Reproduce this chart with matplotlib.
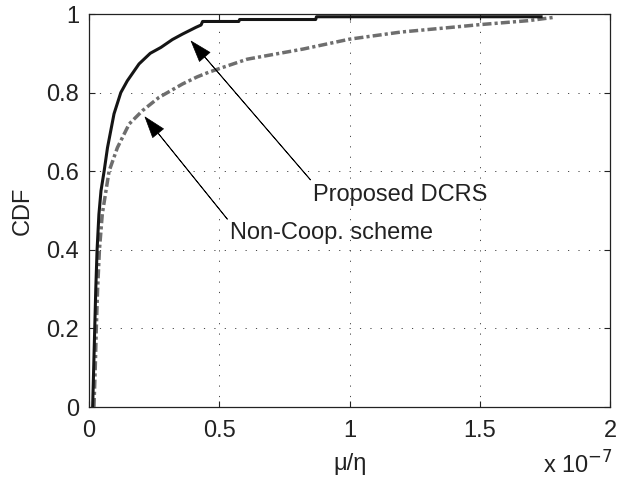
import matplotlib
matplotlib.use("Agg")
import matplotlib.pyplot as plt
from matplotlib.ticker import FixedLocator, FuncFormatter

plt.rcParams['font.family'] = ['Liberation Sans', 'DejaVu Sans']

# values, x in units of 1e-7
dcrs_x = [0.014, 0.018, 0.022, 0.026, 0.031, 0.038, 0.046, 0.058, 0.071, 0.096,
          0.122, 0.147, 0.192, 0.235, 0.276, 0.32, 0.359, 0.41, 0.43, 0.436,
          0.575, 0.578, 0.87, 0.873, 1.735]
dcrs_y = [0.0, 0.1, 0.2, 0.3, 0.4, 0.49, 0.55, 0.6, 0.66, 0.746,
          0.8, 0.83, 0.873, 0.9, 0.915, 0.935, 0.949, 0.966, 0.972, 0.981,
          0.981, 0.986, 0.986, 0.993, 0.993]

noncoop_x = [0.019, 0.024, 0.028, 0.033, 0.04, 0.051, 0.077, 0.109, 0.154, 0.205,
             0.269, 0.301, 0.359, 0.415, 0.46, 0.504, 0.607, 0.823, 1.0, 1.196,
             1.39, 1.5, 1.685, 1.79]
noncoop_y = [0.0, 0.1, 0.2, 0.3, 0.4, 0.491, 0.6, 0.66, 0.72, 0.754,
             0.788, 0.8, 0.822, 0.84, 0.852, 0.862, 0.885, 0.911, 0.936, 0.954,
             0.966, 0.973, 0.983, 0.992]

x_ticks = [0, 0.5, 1, 1.5, 2]
y_ticks = [0, 0.2, 0.4, 0.6, 0.8, 1]

fs = 17
txt = '#222222'

fig = plt.figure(figsize=(6.29, 4.83), dpi=100)
ax = fig.add_axes([0.1415, 0.1573, 0.8285, 0.8137])

ax.plot(noncoop_x, noncoop_y, color='#6e6e6e', lw=2.5,
        dashes=(2.6, 0.9, 0.9, 0.9), zorder=3)
ax.plot(dcrs_x, dcrs_y, color='#151515', lw=2.2, zorder=4)

ax.set_xlim(0, 2)
ax.set_ylim(0, 1)
ax.xaxis.set_major_locator(FixedLocator(x_ticks))
ax.yaxis.set_major_locator(FixedLocator(y_ticks))
fmt = FuncFormatter(lambda v, p: '%g' % v)
ax.xaxis.set_major_formatter(fmt)
ax.yaxis.set_major_formatter(fmt)

ax.grid(True, color='#444444', lw=0.7, dashes=(1.2, 9.5))
ax.tick_params(direction='in', length=4, width=0.8, top=True, right=True,
               labelsize=fs, colors=txt, pad=7)
ax.tick_params(axis='x', pad=9)
for s in ax.spines.values():
    s.set_linewidth(0.9)
    s.set_color(txt)

ax.set_ylabel('CDF', fontsize=fs, labelpad=9, color=txt)
ax.set_xlabel('μ/η', fontsize=fs, labelpad=8, color=txt)
fig.text(0.863, 0.019, r'x 10$^{-7}$', fontsize=fs, color=txt,
         ha='left', va='baseline')

arrow = dict(facecolor='black', edgecolor='black', width=0.3, lw=0.5,
             headwidth=10, headlength=15, shrink=0)
ax.annotate('', xy=(0.392, 0.931), xytext=(0.85, 0.578), arrowprops=arrow)
ax.annotate('', xy=(0.215, 0.738), xytext=(0.531, 0.478), arrowprops=arrow)
ax.text(1.194, 0.539, 'Proposed DCRS', fontsize=fs, ha='center',
        va='center', color=txt)
ax.text(0.929, 0.443, 'Non-Coop. scheme', fontsize=fs, ha='center',
        va='center', color=txt)

fig.savefig('out.png', dpi=100)
